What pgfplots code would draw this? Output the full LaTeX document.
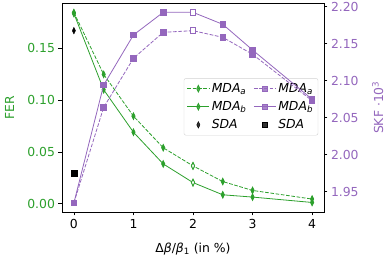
\documentclass[border=0pt]{standalone}
\usepackage{fontspec}
\setmainfont{DejaVu Sans}
\usepackage{pgfplots}
\pgfplotsset{compat=1.18}
\definecolor{tgreen}{HTML}{2CA02C}
\definecolor{tpurple}{HTML}{9467BD}
\newcommand{\fnt}{\fontsize{12.4}{14}\selectfont}
\pgfplotsset{
  common/.style={
    at={(62pt,48pt)}, anchor=south west, scale only axis,
    width=262pt, height=209pt,
    xmin=-0.2, xmax=4.2,
    tick align=outside, major tick length=3.5pt,
    tick style={black, line width=0.7pt},
    /pgf/number format/assume math mode=true,
    tick label style={font=\fnt},
    label style={font=\fnt},
  },
  gdiam/.style={mark=diamond*, mark size=3.3pt, mark options={xscale=0.65, solid}},
  psq/.style={mark=square*, mark size=2.8pt, mark options={solid}},
  midmark/.style={legend image code/.code={\draw[mark repeat=2,mark phase=2,##1] plot coordinates {(0pt,0pt)(11pt,0pt)(22pt,0pt)};}},
}
\begin{document}
\begin{tikzpicture}
\useasboundingbox (0,0) rectangle (389pt,260pt);
\begin{axis}[common,
  axis line style={line width=0.7pt},
  ymin=-0.008, ymax=0.1937,
  xtick={0,1,2,3,4}, xtick pos=left,
  ytick={0,0.05,0.1,0.15}, ytick pos=left,
  yticklabel style={text=tgreen, /pgf/number format/.cd, fixed, fixed zerofill, precision=2},
  ylabel={FER}, ylabel style={text=tgreen, at={(axis description cs:-0.2,0.5)}, anchor=center},
  xlabel style={at={(axis description cs:0.5,-0.175)}, anchor=center},
  xlabel={Δ\textit{β}/\textit{β}\textsubscript{1} (in \%)},
  legend style={at={(axis description cs:0.978,0.64)}, anchor=north east,
    draw=gray!35, fill=white, fill opacity=0.8, text opacity=1, draw opacity=1,
    rounded corners=2pt, font=\fnt, inner xsep=3pt, inner ysep=3pt,
    row sep=3.5pt,
    /tikz/every even column/.append style={column sep=5pt}},
  legend columns=3, transpose legend,
  legend cell align=left,
  legend image code/.code={\draw[mark repeat=2,mark phase=2] plot coordinates {(0pt,0pt)(11pt,0pt)(22pt,0pt)};},
]
\addplot[tgreen, line width=0.8pt, dash pattern=on 3.7pt off 1.6pt, gdiam]
  coordinates {(0,0.1845)(0.5,0.1248)(1,0.0845)(1.5,0.054)(2,0.0365)(2.5,0.0214)(3,0.0128)(4,0.0045)};
\addlegendentry{\textit{MDA}\textsubscript{\textit{a}}}
\addplot[tgreen, line width=0.8pt, gdiam]
  coordinates {(0,0.1835)(0.5,0.110)(1,0.069)(1.5,0.0384)(2,0.0204)(2.5,0.0086)(3,0.0064)(4,0.0012)};
\addlegendentry{\textit{MDA}\textsubscript{\textit{b}}}
\addplot[black, only marks, gdiam, midmark] coordinates {(0,0.167)};
\addlegendentry{\textit{SDA}}
\addplot[tgreen, only marks, forget plot, mark=diamond*, mark size=3.3pt, mark options={xscale=0.65, fill=white, line width=0.8pt}]
  coordinates {(2,0.0365)(2,0.0204)};
\addlegendimage{tpurple, line width=0.8pt, dash pattern=on 3.7pt off 1.6pt, psq}
\addlegendentry{\textit{MDA}\textsubscript{\textit{a}}}
\addlegendimage{tpurple, line width=0.8pt, psq}
\addlegendentry{\textit{MDA}\textsubscript{\textit{b}}}
\addlegendimage{black, only marks, mark=square*, mark size=2.8pt, midmark}
\addlegendentry{\textit{SDA}}
\end{axis}
\begin{axis}[common,
  axis x line=none, axis y line*=right,
  axis line style={line width=0.7pt},
  ymin=1.9226, ymax=2.205,
  ytick={1.95,2.0,2.05,2.1,2.15,2.2},
  yticklabel style={text=tpurple, /pgf/number format/.cd, fixed, fixed zerofill, precision=2},
  ylabel={SKF ·10\textsuperscript{3}},
  ylabel style={text=tpurple, at={(axis description cs:1.205,0.5)}, anchor=center},
]
\addplot[tpurple, line width=0.8pt, dash pattern=on 3.7pt off 1.6pt, psq]
  coordinates {(0,1.935)(0.5,2.064)(1,2.1303)(1.5,2.1654)(2,2.1676)(2.5,2.1586)(3,2.1357)(4,2.073)};
\addplot[tpurple, line width=0.8pt, psq]
  coordinates {(0,1.935)(0.5,2.0942)(1,2.1618)(1.5,2.1924)(2,2.1924)(2.5,2.1762)(3,2.1415)(4,2.075)};
\addplot[black, only marks, psq] coordinates {(0,1.975)};
\addplot[tpurple, only marks, mark=square*, mark size=2.8pt, mark options={fill=white, line width=0.8pt}]
  coordinates {(2,2.1676)(2,2.1924)};
\end{axis}
\end{tikzpicture}
\end{document}
